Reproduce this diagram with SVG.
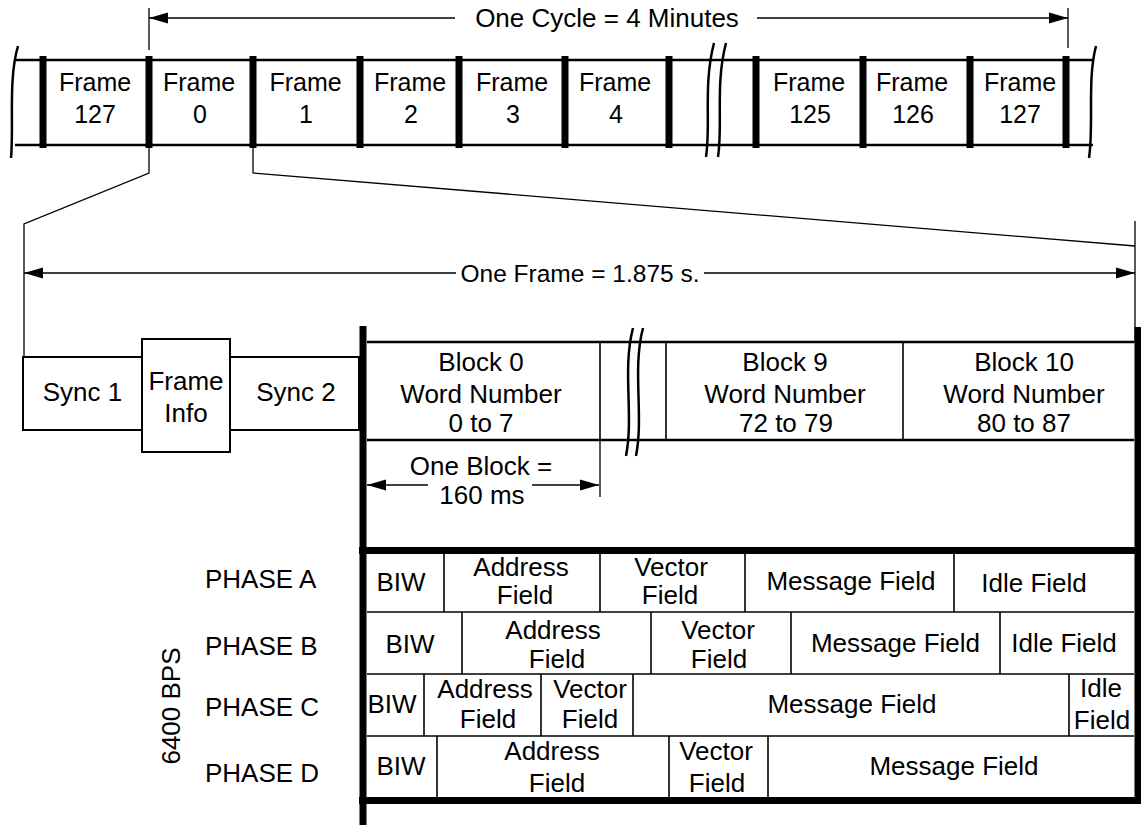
<svg xmlns="http://www.w3.org/2000/svg" width="1141" height="825" viewBox="0 0 1141 825">
<defs>
<style>
text{font-family:"Liberation Sans",Arial,Helvetica,sans-serif;font-size:26px;fill:#000;text-anchor:middle}
.fl{font-size:25px}
.lab{text-anchor:start}
.thick{stroke:#000;stroke-width:2.5;fill:none}
.thin{stroke:#000;stroke-width:1.3;fill:none}
.cell{stroke:#000;stroke-width:1.6;fill:none}
.box{stroke:#000;stroke-width:2;fill:#fff}
.bar{fill:#000}
.heavy{stroke:#000;stroke-width:7;fill:none}
</style>
<marker id="arr" viewBox="-20 -7 21 14" refX="0" refY="0" markerWidth="21" markerHeight="14" markerUnits="userSpaceOnUse" orient="auto-start-reverse">
<path d="M0,0 L-19,-5.5 L-19,5.5 Z" fill="#000"/>
</marker>
</defs>
<rect width="1141" height="825" fill="#fff"/>

<g id="cycle-strip">
<line class="thick" x1="15" y1="60" x2="1093" y2="60"/>
<line class="thick" x1="15" y1="145" x2="1093" y2="145"/>
<path class="thick" stroke-width="2" d="M18,46 C8,80 14,125 11,158"/>
<path class="thick" stroke-width="2" d="M1096,46 C1087,80 1094,125 1089,158"/>
<path class="thick" stroke-width="2" d="M714,43 C703,85 711,125 706,157"/>
<path class="thick" stroke-width="2" d="M726,43 C715,85 723,125 718,157"/>
<g class="bar">
<rect x="39.5" y="56" width="7" height="92"/>
<rect x="145.5" y="56" width="7" height="92"/>
<rect x="249.5" y="56" width="7" height="92"/>
<rect x="356.5" y="56" width="7" height="92"/>
<rect x="455.5" y="56" width="7" height="92"/>
<rect x="561.5" y="56" width="7" height="92"/>
<rect x="665.5" y="56" width="7" height="92"/>
<rect x="752.5" y="56" width="7" height="92"/>
<rect x="859.5" y="56" width="7" height="92"/>
<rect x="966.5" y="56" width="7" height="92"/>
<rect x="1062.5" y="56" width="7" height="92"/>
</g>
</g>
<g id="frame-127-prev"><text class="fl" x="95" y="91">Frame</text><text class="fl" x="95" y="123">127</text></g>
<g id="frame-0"><text class="fl" x="199" y="91">Frame</text><text class="fl" x="200" y="123">0</text></g>
<g id="frame-1"><text class="fl" x="305.5" y="91">Frame</text><text class="fl" x="306" y="123">1</text></g>
<g id="frame-2"><text class="fl" x="410" y="91">Frame</text><text class="fl" x="411" y="123">2</text></g>
<g id="frame-3"><text class="fl" x="512" y="91">Frame</text><text class="fl" x="513" y="123">3</text></g>
<g id="frame-4"><text class="fl" x="615" y="91">Frame</text><text class="fl" x="616" y="123">4</text></g>
<g id="frame-125"><text class="fl" x="809" y="91">Frame</text><text class="fl" x="810" y="123">125</text></g>
<g id="frame-126"><text class="fl" x="912" y="91">Frame</text><text class="fl" x="913" y="123">126</text></g>
<g id="frame-127"><text class="fl" x="1020" y="91">Frame</text><text class="fl" x="1020" y="123">127</text></g>

<g id="connectors">
<line class="thin" x1="149" y1="8" x2="149" y2="50"/>
<line class="thin" x1="1068" y1="8" x2="1068" y2="48"/>
<line class="thin" x1="149" y1="18" x2="455" y2="18" marker-start="url(#arr)"/>
<line class="thin" x1="757" y1="18" x2="1068" y2="18" marker-end="url(#arr)"/>
<polyline class="thin" points="149,148 149,173 24,224 24,357"/>
<polyline class="thin" points="253,148 253,173 1135,246"/>
<line class="thin" x1="1135" y1="221" x2="1135" y2="343"/>
<line class="thin" x1="24" y1="273" x2="456" y2="273" marker-start="url(#arr)"/>
<line class="thin" x1="704" y1="273" x2="1135" y2="273" marker-end="url(#arr)"/>
<line class="thin" x1="600" y1="440" x2="600" y2="497"/>
<line class="thin" x1="367" y1="485" x2="428" y2="485" marker-start="url(#arr)"/>
<line class="thin" x1="532" y1="485" x2="599" y2="485" marker-end="url(#arr)"/>
</g>
<g id="cycle-label"><text x="607" y="27">One Cycle = 4 Minutes</text></g>
<g id="frame-label"><text x="580" y="282" style="font-size:24.5px">One Frame = 1.875 s.</text></g>
<g id="block-label"><text x="481" y="475">One Block =</text><text x="482" y="504">160 ms</text></g>

<g id="sync-1"><rect class="box" x="23" y="357" width="119" height="73"/><text x="82.5" y="401">Sync 1</text></g>
<g id="sync-2"><rect class="box" x="230" y="357" width="129" height="73"/><text x="296" y="401">Sync 2</text></g>
<g id="frame-info"><rect class="box" x="142" y="339" width="88" height="113"/><text x="186" y="390">Frame</text><text x="186" y="422">Info</text></g>

<g id="blocks">
<line class="thick" x1="367" y1="342" x2="1134" y2="342"/>
<line class="thick" x1="367" y1="440" x2="1134" y2="440"/>
<line class="cell" stroke-width="2" x1="600" y1="342" x2="600" y2="440"/>
<line class="cell" stroke-width="2" x1="666" y1="342" x2="666" y2="440"/>
<line class="cell" stroke-width="2" x1="903" y1="342" x2="903" y2="440"/>
<path class="thick" stroke-width="2" d="M633,328 C622,370 634,415 626,456"/>
<path class="thick" stroke-width="2" d="M643,328 C632,370 644,415 636,456"/>
</g>
<g id="block-0"><text x="481" y="371">Block 0</text><text x="481" y="403">Word Number</text><text x="481" y="432">0 to 7</text></g>
<g id="block-9"><text x="785" y="371">Block 9</text><text x="785" y="403">Word Number</text><text x="786" y="432">72 to 79</text></g>
<g id="block-10"><text x="1024" y="371">Block 10</text><text x="1024" y="403">Word Number</text><text x="1024" y="432">80 to 87</text></g>

<g id="frame-bounds">
<line class="heavy" x1="363" y1="326" x2="363" y2="825"/>
<line class="heavy" stroke-width="6" x1="1138" y1="327" x2="1138" y2="804"/>
<line class="heavy" x1="359" y1="550.5" x2="1141" y2="550.5"/>
<line class="heavy" x1="359" y1="800.5" x2="1141" y2="800.5"/>
</g>

<g id="phase-table">
<line class="cell" x1="367" y1="612" x2="1134" y2="612"/>
<line class="cell" x1="367" y1="674" x2="1134" y2="674"/>
<line class="cell" x1="367" y1="736" x2="1134" y2="736"/>
</g>
<g id="phase-a">
<text class="lab" x="205" y="588">PHASE A</text>
<line class="cell" x1="444" y1="554" x2="444" y2="612"/>
<line class="cell" x1="600" y1="554" x2="600" y2="612"/>
<line class="cell" x1="745" y1="554" x2="745" y2="612"/>
<line class="cell" x1="954" y1="554" x2="954" y2="612"/>
<text x="401" y="591">BIW</text>
<text x="521" y="576">Address</text><text x="525" y="604">Field</text>
<text x="671" y="576">Vector</text><text x="670" y="604">Field</text>
<text x="851" y="590">Message Field</text>
<text x="1034" y="592">Idle Field</text>
</g>
<g id="phase-b">
<text class="lab" x="205" y="655">PHASE B</text>
<line class="cell" x1="462" y1="612" x2="462" y2="674"/>
<line class="cell" x1="651" y1="612" x2="651" y2="674"/>
<line class="cell" x1="791" y1="612" x2="791" y2="674"/>
<line class="cell" x1="1000" y1="612" x2="1000" y2="674"/>
<text x="410" y="653">BIW</text>
<text x="553" y="639">Address</text><text x="557" y="668">Field</text>
<text x="718" y="639">Vector</text><text x="719" y="668">Field</text>
<text x="895.5" y="652">Message Field</text>
<text x="1064" y="652">Idle Field</text>
</g>
<g id="phase-c">
<text class="lab" x="205" y="716">PHASE C</text>
<line class="cell" x1="424" y1="674" x2="424" y2="736"/>
<line class="cell" x1="541" y1="674" x2="541" y2="736"/>
<line class="cell" x1="633" y1="674" x2="633" y2="736"/>
<line class="cell" x1="1069" y1="674" x2="1069" y2="736"/>
<text x="392" y="713">BIW</text>
<text x="485" y="698">Address</text><text x="488" y="728">Field</text>
<text x="590" y="698">Vector</text><text x="590" y="728">Field</text>
<text x="852" y="713">Message Field</text>
<text x="1101" y="697">Idle</text><text x="1102" y="729">Field</text>
</g>
<g id="phase-d">
<text class="lab" x="205" y="782">PHASE D</text>
<line class="cell" x1="437" y1="736" x2="437" y2="797"/>
<line class="cell" x1="669" y1="736" x2="669" y2="797"/>
<line class="cell" x1="768" y1="736" x2="768" y2="797"/>
<text x="401" y="775">BIW</text>
<text x="552" y="760">Address</text><text x="557" y="792">Field</text>
<text x="716" y="760">Vector</text><text x="717" y="792">Field</text>
<text x="954" y="775">Message Field</text>
</g>
<g id="rate-label"><text transform="translate(180,706) rotate(-90)">6400 BPS</text></g>
</svg>
